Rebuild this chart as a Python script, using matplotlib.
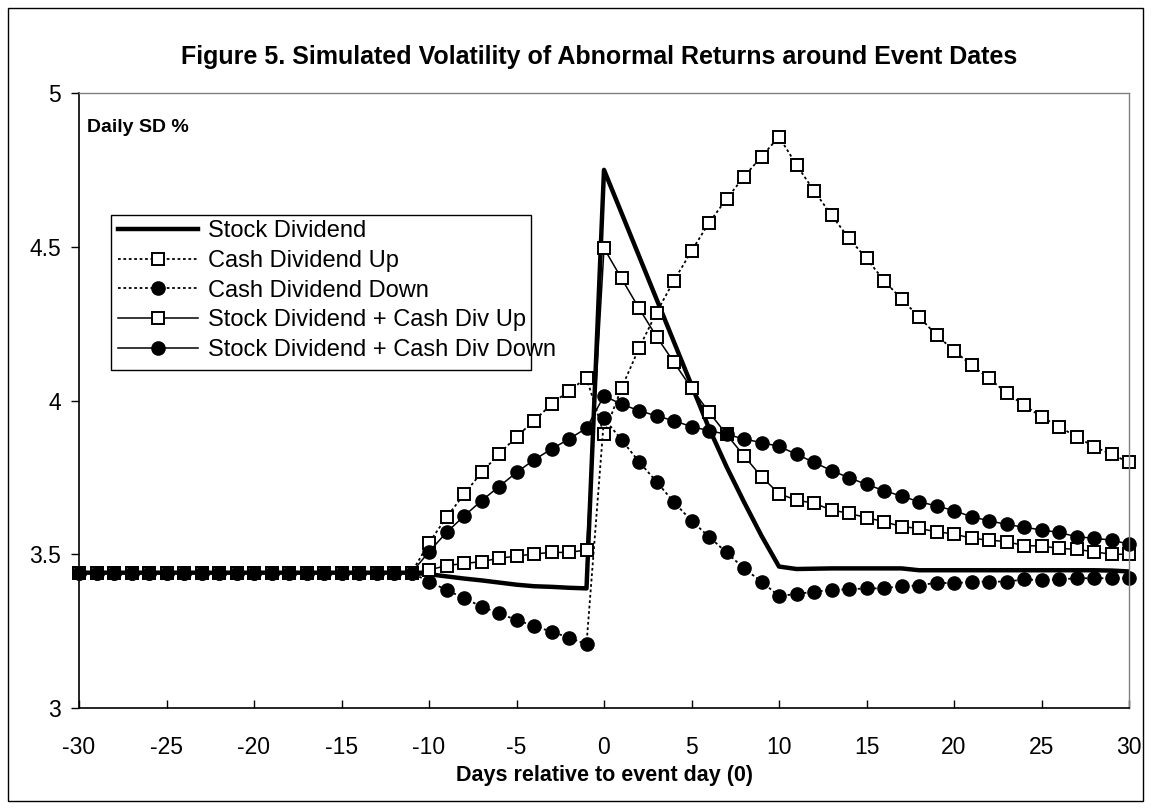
import matplotlib
matplotlib.use("Agg")
import matplotlib.pyplot as plt
from matplotlib.patches import Rectangle

plt.rcParams['font.family'] = ['Liberation Sans', 'DejaVu Sans']
plt.rcParams['axes.unicode_minus'] = False

# days relative to the event
days = list(range(-30, 31))

# all series sit at the same level from day -30 to -11
flat = [3.44, 3.44, 3.44, 3.44, 3.44, 3.44, 3.44, 3.44, 3.44, 3.44,
        3.44, 3.44, 3.44, 3.44, 3.44, 3.44, 3.44, 3.44, 3.44, 3.44]

# day -10 .. 30
stock_div = flat + [
    3.435, 3.428, 3.421, 3.415, 3.408, 3.401, 3.396, 3.394, 3.391, 3.389,
    4.75, 4.61, 4.47, 4.33, 4.19, 4.05, 3.91, 3.785, 3.67, 3.56, 3.46,
    3.452, 3.453, 3.454, 3.454, 3.454, 3.454, 3.454, 3.448, 3.448, 3.448,
    3.448, 3.448, 3.448, 3.448, 3.448, 3.448, 3.448, 3.448, 3.447, 3.444]

cash_up = flat + [
    3.537, 3.620, 3.695, 3.766, 3.826, 3.882, 3.934, 3.988, 4.032, 4.073,
    3.890, 4.040, 4.170, 4.286, 4.390, 4.486, 4.578, 4.655, 4.728, 4.793, 4.858,
    4.766, 4.682, 4.603, 4.527, 4.462, 4.390, 4.330, 4.272, 4.213, 4.162,
    4.115, 4.072, 4.025, 3.985, 3.947, 3.915, 3.882, 3.850, 3.825, 3.799]

cash_down = flat + [
    3.411, 3.384, 3.357, 3.330, 3.308, 3.286, 3.267, 3.248, 3.229, 3.207,
    3.942, 3.872, 3.801, 3.736, 3.669, 3.609, 3.557, 3.506, 3.454, 3.411, 3.364,
    3.371, 3.378, 3.384, 3.386, 3.389, 3.389, 3.397, 3.398, 3.408, 3.405,
    3.411, 3.411, 3.411, 3.418, 3.416, 3.418, 3.422, 3.422, 3.422, 3.422]

stock_cash_up = flat + [
    3.449, 3.463, 3.470, 3.476, 3.487, 3.494, 3.501, 3.506, 3.506, 3.514,
    4.495, 4.397, 4.300, 4.208, 4.124, 4.040, 3.962, 3.890, 3.820, 3.752, 3.697,
    3.676, 3.666, 3.644, 3.633, 3.619, 3.606, 3.590, 3.584, 3.573, 3.566,
    3.552, 3.546, 3.541, 3.528, 3.527, 3.519, 3.516, 3.508, 3.500, 3.500]

stock_cash_down = flat + [
    3.508, 3.571, 3.624, 3.674, 3.720, 3.766, 3.807, 3.842, 3.875, 3.910,
    4.015, 3.988, 3.967, 3.950, 3.934, 3.915, 3.902, 3.890, 3.875, 3.863, 3.851,
    3.825, 3.799, 3.772, 3.749, 3.727, 3.707, 3.689, 3.671, 3.657, 3.642,
    3.622, 3.609, 3.597, 3.588, 3.579, 3.571, 3.557, 3.552, 3.546, 3.533]

fig = plt.figure(figsize=(11.52, 8.09), dpi=100)
ax = fig.add_axes([79 / 1152, 1 - 708 / 809, 1050 / 1152, 615 / 809])

dots = (0, (1.5, 1.5))
ax.plot(days, stock_div, color='black', lw=3.2, label='Stock Dividend')
ax.plot(days, cash_up, color='black', lw=1.3, ls=dots, marker='s', ms=8.5,
        mfc='white', mec='black', mew=1.4, label='Cash Dividend Up', clip_on=False)
ax.plot(days, cash_down, color='black', lw=1.3, ls=dots, marker='o', ms=9.5,
        mfc='black', mec='black', label='Cash Dividend Down', clip_on=False)
ax.plot(days, stock_cash_up, color='black', lw=1.1, marker='s', ms=8.5,
        mfc='white', mec='black', mew=1.4, label='Stock Dividend + Cash Div Up', clip_on=False)
ax.plot(days, stock_cash_down, color='black', lw=1.1, marker='o', ms=9.5,
        mfc='black', mec='black', label='Stock Dividend + Cash Div Down', clip_on=False)

ax.set_xlim(-30, 30)
ax.set_ylim(3, 5)
ax.set_xticks(range(-30, 31, 5))
ax.set_yticks([3, 3.5, 4, 4.5, 5])
ax.set_yticklabels(['3', '3.5', '4', '4.5', '5'])
ax.tick_params(axis='x', direction='in', length=6, width=1, pad=20, labelsize=16.5)
ax.tick_params(axis='y', direction='out', length=6, width=1, pad=7, labelsize=16.5)

for side in ['left', 'bottom']:
    ax.spines[side].set_linewidth(1.2)
    ax.spines[side].set_color('black')
for side in ['top', 'right']:
    ax.spines[side].set_linewidth(1.0)
    ax.spines[side].set_color('#808080')

fig.text(0.52, 1 - 57 / 809,
         'Figure 5. Simulated Volatility of Abnormal Returns around Event Dates',
         ha='center', va='center', fontsize=18, fontweight='bold')
fig.text(87 / 1152, 1 - 128 / 809, 'Daily SD %', ha='left', va='center',
         fontsize=14, fontweight='bold')
fig.text(604 / 1152, 1 - 775 / 809, 'Days relative to event day (0)',
         ha='center', va='center', fontsize=15.5, fontweight='bold')

leg = ax.legend(loc='upper left', bbox_to_anchor=(118 / 1152, 1 - 220 / 809),
                bbox_transform=fig.transFigure, frameon=False, fontsize=17,
                numpoints=1, handlelength=3.4, handletextpad=0.4,
                labelspacing=0.33, borderpad=0, borderaxespad=0)

# legend box, narrower than the last label as in the original
fig.patches.append(Rectangle((111 / 1152, 1 - 370 / 809), 420 / 1152, 155 / 809,
                             transform=fig.transFigure, fill=False,
                             edgecolor='black', lw=1.0))
# outer chart border
fig.patches.append(Rectangle((8 / 1152, 8 / 809), 1135 / 1152, 793 / 809,
                             transform=fig.transFigure, fill=False,
                             edgecolor='black', lw=1.0))

fig.savefig('out.png', dpi=100)
